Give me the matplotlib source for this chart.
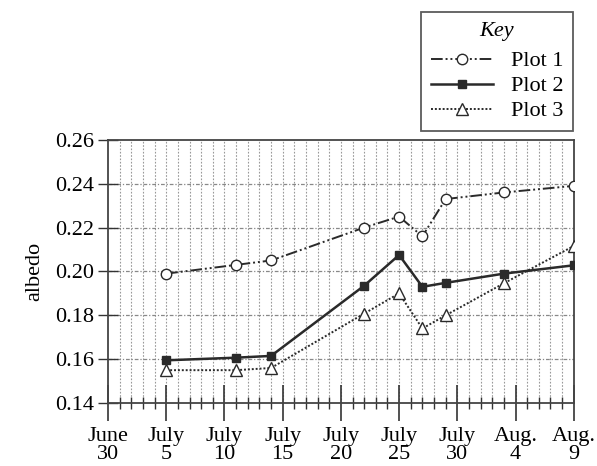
import matplotlib
matplotlib.use("Agg")
import matplotlib.pyplot as plt
from matplotlib.ticker import MultipleLocator, FixedLocator

plt.rcParams['font.family'] = ['Liberation Serif', 'DejaVu Serif']

# days after June 30
days = [5, 11, 14, 22, 25, 27, 29, 34, 40]
plot1 = [0.199, 0.203, 0.205, 0.220, 0.225, 0.216, 0.233, 0.236, 0.239]
plot2 = [0.1595, 0.1607, 0.1615, 0.1935, 0.2075, 0.1930, 0.1948, 0.1990, 0.2028]
plot3 = [0.155, 0.155, 0.156, 0.1808, 0.190, 0.174, 0.180, 0.1946, 0.2116]
tick_days = [0, 5, 10, 15, 20, 25, 30, 35, 40]
tick_labels = ["June\n30", "July\n5", "July\n10", "July\n15", "July\n20",
               "July\n25", "July\n30", "Aug.\n4", "Aug.\n9"]
yticks = [0.14, 0.16, 0.18, 0.20, 0.22, 0.24, 0.26]

fig = plt.figure(figsize=(5.97, 4.66), dpi=100)
ax = fig.add_axes([0.181, 0.135, 0.780, 0.565])

col = '#2a2a2a'
l1, = ax.plot(days, plot1, color=col, lw=1.4, dashes=(6, 1.5, 1, 1.5, 1, 1.5),
              marker='o', ms=7.5, mfc='white', mec=col, mew=1.0, label='Plot 1', zorder=3)
l2, = ax.plot(days, plot2, color=col, lw=1.8, linestyle='-',
              marker='s', ms=5.5, mfc=col, mec=col, label='Plot 2', zorder=3)
l3, = ax.plot(days, plot3, color=col, lw=1.4, dashes=(1, 1),
              marker='^', ms=8, mfc='white', mec=col, mew=1.0, label='Plot 3', zorder=3)

ax.set_xlim(0, 40)
ax.set_ylim(0.14, 0.26)

ax.xaxis.set_major_locator(FixedLocator(tick_days))
ax.set_xticklabels(tick_labels, fontsize=16, linespacing=0.95)
ax.xaxis.set_minor_locator(MultipleLocator(1))
ax.set_yticks(yticks)
ax.set_yticklabels([f"{v:.2f}" for v in yticks], fontsize=16)

ax.tick_params(axis='x', which='major', direction='inout', length=26, width=1.2, pad=4, color='#333')
ax.tick_params(axis='x', which='minor', direction='inout', length=9, width=1.0, color='#333')
ax.tick_params(axis='y', which='major', direction='inout', length=14, width=1.0, pad=3, color='#333')

# grids
for d in range(1, 40):
    ax.axvline(d, color='#999999', lw=0.8, ls=(0, (1.5, 1.5)), zorder=1)
for v in yticks[1:-1]:
    ax.axhline(v, color='#888888', lw=0.9, ls=(0, (3, 1.5, 1, 1.5)), zorder=1)

for s in ax.spines.values():
    s.set_color('#444444')
    s.set_linewidth(1.3)

ax.set_ylabel('albedo', fontsize=16, labelpad=8)

leg = fig.legend(handles=[l1, l2, l3], loc='upper right',
                 bbox_to_anchor=(0.960, 0.974), fontsize=16,
                 title='Key', title_fontproperties={'style': 'italic', 'size': 16},
                 fancybox=False, frameon=True, edgecolor='#333333',
                 handlelength=2.8, handletextpad=0.8, labelspacing=0.2,
                 borderpad=0.45, borderaxespad=0)
leg.get_frame().set_linewidth(1.3)
leg._legend_box.sep = 7

fig.savefig('out.png', dpi=100)
